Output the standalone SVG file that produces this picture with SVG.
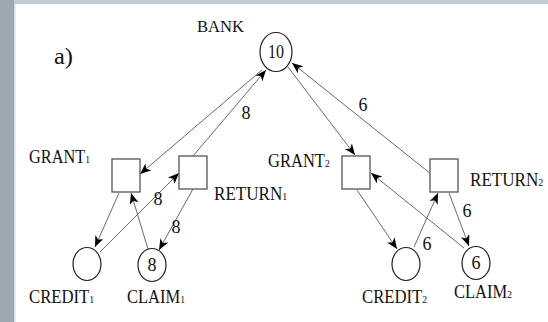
<svg xmlns="http://www.w3.org/2000/svg" width="548" height="322" viewBox="0 0 548 322">
  <style>
    .t { font-family: "Liberation Serif", "Times New Roman", serif; fill: #111; }
    .lbl { font-size: 19px; }
    .sub { font-size: 11px; }
    .w { font-size: 18px; text-anchor: middle; }
    .place { fill: #fff; stroke: #222; stroke-width: 1.2; }
    .trans { fill: #fff; stroke: #555; stroke-width: 1.3; }
    .arc { stroke: #6a6a6a; stroke-width: 1; fill: none; marker-end: url(#head); }
  </style>
  <defs>
    <marker id="head" markerUnits="userSpaceOnUse" markerWidth="12" markerHeight="10" refX="11" refY="4.5" orient="auto">
      <path d="M0,0 L11,4.5 L0,9 L3,4.5 z" fill="#000"/>
    </marker>
  </defs>

  <!-- page frame -->
  <rect x="0" y="0" width="548" height="322" fill="#9ea8b1"/>
  <rect x="14" y="0" width="534" height="4" fill="#c6ccd4"/>
  <rect x="14" y="4" width="534" height="318" fill="#fff"/>
  <rect x="14" y="4" width="1.5" height="318" fill="#d8dce0"/>

  <text class="t" x="54" y="64" font-size="24" textLength="19" lengthAdjust="spacingAndGlyphs">a)</text>

  <!-- connectors -->
  <g id="arcs">
    <line class="arc" x1="262" y1="70" x2="140" y2="174"/>
    <line class="arc" x1="193" y1="156" x2="266" y2="70"/>
    <line class="arc" x1="288" y1="67" x2="355" y2="155"/>
    <line class="arc" x1="431" y1="174" x2="292" y2="63"/>
    <line class="arc" x1="119" y1="193" x2="95" y2="247"/>
    <line class="arc" x1="100" y1="252" x2="179" y2="173"/>
    <line class="arc" x1="148" y1="249" x2="131" y2="193"/>
    <line class="arc" x1="193" y1="189" x2="159" y2="250"/>
    <line class="arc" x1="357" y1="190" x2="397" y2="249"/>
    <line class="arc" x1="414" y1="247" x2="438" y2="193"/>
    <line class="arc" x1="464" y1="248" x2="371" y2="173"/>
    <line class="arc" x1="449" y1="193" x2="469" y2="246"/>
    <text class="t w" x="246" y="119">8</text>
    <text class="t w" x="363" y="111">6</text>
    <text class="t w" x="158" y="205">8</text>
    <text class="t w" x="176" y="233">8</text>
    <text class="t w" x="427" y="250">6</text>
    <text class="t w" x="467" y="217">6</text>
  </g>

  <g id="bank">
    <ellipse class="place" cx="276" cy="52" rx="16" ry="19.5"/>
    <text class="t w" x="276" y="58" textLength="16" lengthAdjust="spacingAndGlyphs">10</text>
    <text class="t" x="197" y="32" font-size="17" textLength="47" lengthAdjust="spacingAndGlyphs">BANK</text>
  </g>

  <!-- transition and place labels are condensed horizontally by a scale transform -->
  <g id="grant1">
    <rect class="trans" x="112" y="159" width="28" height="33"/>
    <text class="t lbl" transform="translate(29 163) scale(0.86 1)">GRANT<tspan class="sub">1</tspan></text>
  </g>
  <g id="return1">
    <rect class="trans" x="179" y="156" width="28" height="33"/>
    <text class="t lbl" transform="translate(214 200) scale(0.9 1)">RETURN<tspan class="sub">1</tspan></text>
  </g>
  <g id="grant2">
    <rect class="trans" x="342" y="156" width="28" height="33"/>
    <text class="t lbl" transform="translate(268 167) scale(0.87 1)">GRANT<tspan class="sub">2</tspan></text>
  </g>
  <g id="return2">
    <rect class="trans" x="430" y="159" width="28" height="33"/>
    <text class="t lbl" transform="translate(470 186) scale(0.9 1)">RETURN<tspan class="sub">2</tspan></text>
  </g>

  <g id="credit1">
    <ellipse class="place" cx="87" cy="264" rx="14" ry="16.5"/>
    <text class="t lbl" transform="translate(29 303) scale(0.88 1)">CREDIT<tspan class="sub">1</tspan></text>
  </g>
  <g id="claim1">
    <ellipse class="place" cx="152" cy="265" rx="14" ry="16.5"/>
    <text class="t w" x="152" y="271">8</text>
    <text class="t lbl" transform="translate(127 303) scale(0.87 1)">CLAIM<tspan class="sub">1</tspan></text>
  </g>
  <g id="credit2">
    <ellipse class="place" cx="406" cy="264" rx="14" ry="16.5"/>
    <text class="t lbl" transform="translate(362 303) scale(0.88 1)">CREDIT<tspan class="sub">2</tspan></text>
  </g>
  <g id="claim2">
    <ellipse class="place" cx="476" cy="263" rx="14" ry="16.5"/>
    <text class="t w" x="476" y="269">6</text>
    <text class="t lbl" transform="translate(454 298) scale(0.87 1)">CLAIM<tspan class="sub">2</tspan></text>
  </g>
</svg>
